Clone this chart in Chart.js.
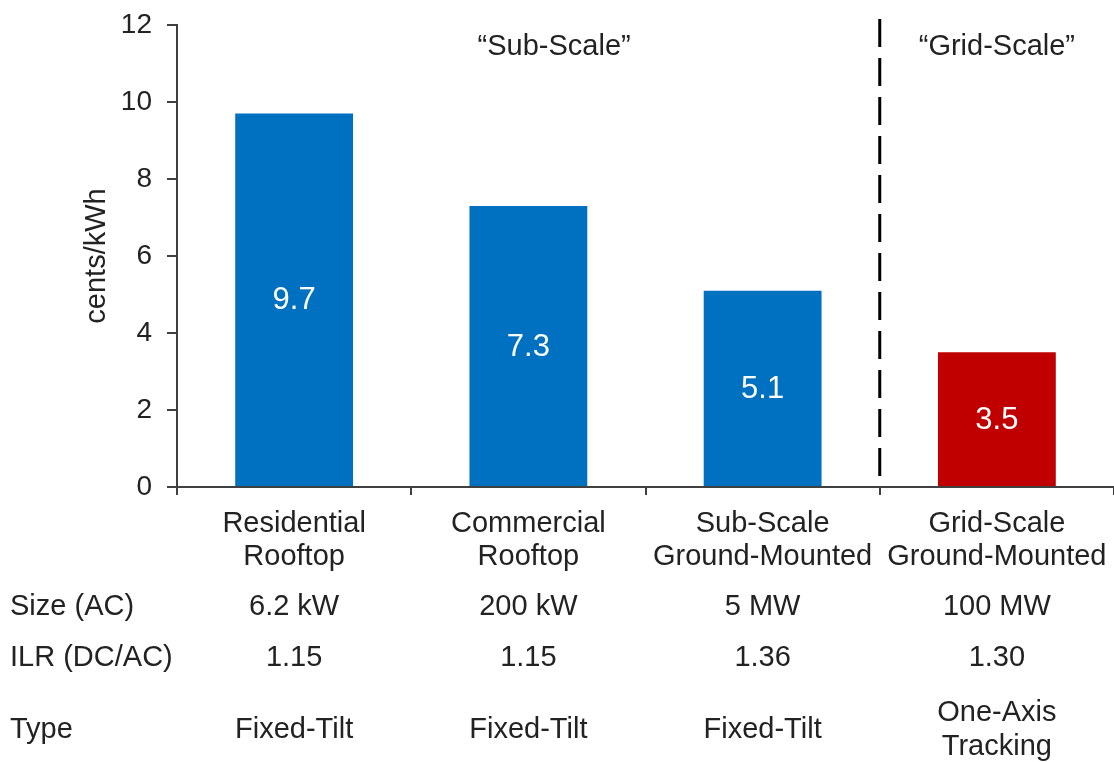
<!DOCTYPE html>
<html>
<head>
<meta charset="utf-8">
<script src="https://cdn.jsdelivr.net/npm/chart.js@4/dist/chart.umd.min.js"></script>
<style>
  body { margin: 0; background: #fff; }
  #wrap { width: 1114px; height: 762px; position: relative; }
</style>
</head>
<body>
<div id="wrap"><canvas id="lcoe_chart"></canvas></div>
<script>
const categories = [
  ["Residential", "Rooftop"],
  ["Commercial", "Rooftop"],
  ["Sub-Scale", "Ground-Mounted"],
  ["Grid-Scale", "Ground-Mounted"],
];
const costs = [9.7, 7.3, 5.1, 3.5];
const barColors = ["#0070C0", "#0070C0", "#0070C0", "#C00000"];
const yTicks = [0, 2, 4, 6, 8, 10, 12];

const rowLabels = ["Size (AC)", "ILR (DC/AC)", "Type"];
const sizes = ["6.2 kW", "200 kW", "5 MW", "100 MW"];
const ilrs = ["1.15", "1.15", "1.36", "1.30"];
const types = [["Fixed-Tilt"], ["Fixed-Tilt"], ["Fixed-Tilt"], ["One-Axis", "Tracking"]];

const groupLabels = [
  { text: "\u201CSub-Scale\u201D", at: 1.11 },
  { text: "\u201CGrid-Scale\u201D", at: 3 },
];

const font = "'Liberation Sans', Arial, sans-serif";
const textColor = "#222";
const axisColor = "#404040";

const extrasPlugin = {
  id: "extras",
  afterDatasetsDraw(chart) {
    const { ctx, chartArea, scales } = chart;
    const x = scales.x;
    const meta = chart.getDatasetMeta(0);
    ctx.save();

    // value labels inside bars
    ctx.fillStyle = "#fff";
    ctx.font = `31px ${font}`;
    ctx.textAlign = "center";
    ctx.textBaseline = "middle";
    meta.data.forEach((bar, i) => {
      ctx.fillText(costs[i].toFixed(1), bar.x, (bar.y + bar.base) / 2 + 1);
    });

    // dashed divider between sub-scale and grid-scale
    const divX = (x.getPixelForValue(2) + x.getPixelForValue(3)) / 2;
    ctx.strokeStyle = "#000";
    ctx.lineWidth = 3;
    ctx.setLineDash([28, 11]);
    ctx.beginPath();
    ctx.moveTo(divX, chartArea.top - 6);
    ctx.lineTo(divX, chartArea.bottom - 3);
    ctx.stroke();
    ctx.setLineDash([]);

    // group labels
    ctx.fillStyle = textColor;
    ctx.font = `29px ${font}`;
    groupLabels.forEach((g) => {
      ctx.fillText(g.text, x.getPixelForValue(g.at), 47);
    });

    // y title
    ctx.save();
    ctx.translate(97, (chartArea.top + chartArea.bottom) / 2);
    ctx.rotate(-Math.PI / 2);
    ctx.fillText("cents/kWh", 0, 0);
    ctx.restore();

    // table under the chart
    const rows = [
      { y: 607, values: sizes.map((s) => [s]) },
      { y: 658, values: ilrs.map((s) => [s]) },
      { y: 730, values: types },
    ];
    rows.forEach((row, r) => {
      ctx.textAlign = "left";
      ctx.fillText(rowLabels[r], 10, row.y);
      ctx.textAlign = "center";
      row.values.forEach((lines, i) => {
        const cx = x.getPixelForValue(i);
        const lh = 34;
        const y0 = row.y - ((lines.length - 1) * lh) / 2;
        lines.forEach((line, k) => ctx.fillText(line, cx, y0 + k * lh));
      });
    });

    ctx.restore();
  },
};

const config = {
  type: "bar",
  data: {
    labels: categories,
    datasets: [
      {
        data: costs,
        backgroundColor: barColors,
        barPercentage: 0.503,
        categoryPercentage: 1,
      },
    ],
  },
  options: {
    responsive: true,
    maintainAspectRatio: false,
    animation: false,
    layout: { padding: { top: 25, right: -4, left: 0, bottom: 0 } },
    plugins: {
      legend: { display: false },
      tooltip: { enabled: false },
    },
    scales: {
      x: {
        grid: {
          drawOnChartArea: false,
          drawTicks: true,
          tickLength: 8,
          color: axisColor,
          lineWidth: 2,
        },
        border: { color: axisColor, width: 2 },
        ticks: {
          color: textColor,
          font: { family: font, size: 29, lineHeight: 1.15 },
          padding: 12,
          maxRotation: 0,
          autoSkip: false,
        },
        afterFit: (scale) => {
          scale.height = 275;
          scale.paddingLeft = 0;
          scale.paddingRight = 0;
        },
      },
      y: {
        min: 0,
        max: 12,
        afterBuildTicks: (scale) => {
          scale.ticks = yTicks.map((v) => ({ value: v }));
        },
        grid: {
          drawOnChartArea: false,
          drawTicks: true,
          tickLength: 10,
          color: axisColor,
          lineWidth: 2,
        },
        border: { color: axisColor, width: 2 },
        ticks: {
          color: textColor,
          font: { family: font, size: 28 },
          padding: 15,
        },
        afterFit: (scale) => {
          scale.width = 177;
          scale.paddingTop = 0;
          scale.paddingBottom = 0;
        },
      },
    },
  },
  plugins: [extrasPlugin],
};

new Chart(document.getElementById("lcoe_chart"), config);
</script>
</body>
</html>
